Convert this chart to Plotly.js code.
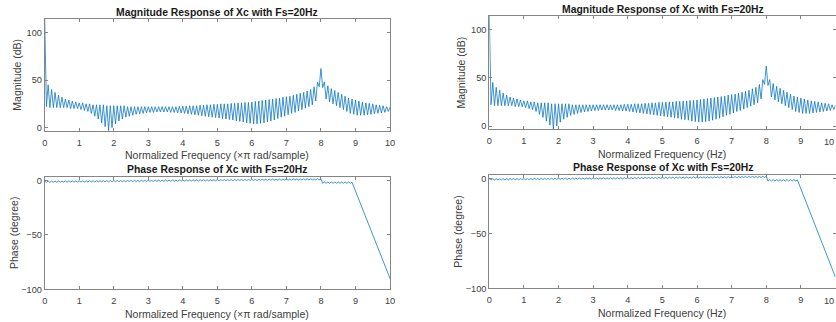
<!DOCTYPE html>
<html>
<head>
<meta charset="utf-8">
<script src="https://cdn.plot.ly/plotly-3.0.1.min.js"></script>
<style>html,body{margin:0;padding:0;background:#fff;}#chart{width:836px;height:322px;}</style>
</head>
<body>
<div id="chart"></div>
<script>
// ---- data ----
const magFreq = [0,0.02,0.05,0.1,0.15,0.2,0.25,0.3,0.35,0.4,0.45,0.5,0.55,0.6,0.65,0.7,0.75,0.8,0.85,0.9,0.95,
1.0,1.05,1.1,1.15,1.2,1.25,1.3,1.35,1.4,1.45,1.5,1.55,1.6,1.65,1.7,1.75,1.8,1.85,1.9,1.95,
2.0,2.05,2.1,2.15,2.2,2.25,2.3,2.35,2.4,2.45,2.5,2.55,2.6,2.65,2.7,2.75,2.8,2.85,2.9,2.95,
3.0,3.05,3.1,3.15,3.2,3.25,3.3,3.35,3.4,3.45,3.5,3.55,3.6,3.65,3.7,3.75,3.8,3.85,3.9,3.95,
4.0,4.05,4.1,4.15,4.2,4.25,4.3,4.35,4.4,4.45,4.5,4.55,4.6,4.65,4.7,4.75,4.8,4.85,4.9,4.95,
5.0,5.05,5.1,5.15,5.2,5.25,5.3,5.35,5.4,5.45,5.5,5.55,5.6,5.65,5.7,5.75,5.8,5.85,5.9,5.95,
6.0,6.05,6.1,6.15,6.2,6.25,6.3,6.35,6.4,6.45,6.5,6.55,6.6,6.65,6.7,6.75,6.8,6.85,6.9,6.95,
7.0,7.05,7.1,7.15,7.2,7.25,7.3,7.35,7.4,7.45,7.5,7.55,7.6,7.65,7.7,7.75,7.8,7.85,7.9,7.95,
8.0,8.05,8.1,8.15,8.2,8.25,8.3,8.35,8.4,8.45,8.5,8.55,8.6,8.65,8.7,8.75,8.8,8.85,8.9,8.95,
9.0,9.05,9.1,9.15,9.2,9.25,9.3,9.35,9.4,9.45,9.5,9.55,9.6,9.65,9.7,9.75,9.8,9.85,9.9,9.95,10.0];

const magDb = [114,56,22,45,21,40,21,37,21,34,21,32,21,30,21,29,20,28,20,27,20,
26,19,26,18,25,17,25,15,24,12,24,9,24,5,24,1,23,-3,23,0,
23,4,23,7,23,9,23,11,22,12,22,13,22,14,22,14.5,22,15,22,15.5,
22,16,22,16,22,16.5,22,16.5,22,16.5,22,16.5,22,16,22,16,22,15.5,22.5,15.5,
22.5,15,22.5,14.5,23,14,23,13.5,23,13,23.5,12.5,23.5,12,24,11.5,24,11,24.5,10.5,
24.5,10,25,9.5,25,9,25,8.5,25.5,8,25.5,7,26,6.5,26,6,26.5,5,26.5,4.5,
27,4,27.5,4,28,4.5,28.5,5,29,6,29.5,7,30,8,30.5,9.5,31,11,32,12,
32.5,13.5,33,15,34,16,35,17.5,36,19,37,20.5,38.5,22,40,24,43,28,48,43,
62,42,48,30,44,27,41,25,39,23,37,21,35,19,33,17,31,15,30,14,
29,13,28,13,27,13,26,13.5,25.5,14,25,14.5,24,15,23.5,15.5,23,16,22,17,21.5];

const phaseFreq = [0,0.05,0.1,0.15,0.2,0.25,0.3,0.35,0.4,0.45,0.5,0.55,0.6,0.65,0.7,0.75,0.8,0.85,0.9,0.95,
1.0,1.05,1.1,1.15,1.2,1.25,1.3,1.35,1.4,1.45,1.5,1.55,1.6,1.65,1.7,1.75,1.8,1.85,1.9,1.95,
2.0,2.05,2.1,2.15,2.2,2.25,2.3,2.35,2.4,2.45,2.5,2.55,2.6,2.65,2.7,2.75,2.8,2.85,2.9,2.95,
3.0,3.05,3.1,3.15,3.2,3.25,3.3,3.35,3.4,3.45,3.5,3.55,3.6,3.65,3.7,3.75,3.8,3.85,3.9,3.95,
4.0,4.05,4.1,4.15,4.2,4.25,4.3,4.35,4.4,4.45,4.5,4.55,4.6,4.65,4.7,4.75,4.8,4.85,4.9,4.95,
5.0,5.05,5.1,5.15,5.2,5.25,5.3,5.35,5.4,5.45,5.5,5.55,5.6,5.65,5.7,5.75,5.8,5.85,5.9,5.95,
6.0,6.05,6.1,6.15,6.2,6.25,6.3,6.35,6.4,6.45,6.5,6.55,6.6,6.65,6.7,6.75,6.8,6.85,6.9,6.95,
7.0,7.05,7.1,7.15,7.2,7.25,7.3,7.35,7.4,7.45,7.5,7.55,7.6,7.65,7.7,7.75,7.8,7.85,7.9,7.95,
8.0,8.03,8.05,8.1,8.15,8.2,8.25,8.3,8.35,8.4,8.45,8.5,8.55,8.6,8.65,8.7,8.75,8.8,8.85,8.9,10.0];

const phaseDeg = [-0.5,-1.5,-0.5,-1.5,-0.4,-1.4,-0.4,-1.4,-0.4,-1.4,-0.4,-1.3,-0.3,-1.3,-0.3,-1.3,-0.3,-1.3,-0.3,-1.2,
-0.2,-1.2,-0.2,-1.2,-0.2,-1.2,-0.1,-1.1,-0.1,-1.1,-0.1,-1.1,-0.1,-1.0,0.0,-1.0,0.0,-1.0,0.0,-1.0,
0.1,-0.9,0.1,-0.9,0.1,-0.9,0.1,-0.9,0.2,-0.8,0.2,-0.8,0.2,-0.8,0.2,-0.8,0.3,-0.7,0.3,-0.7,
0.3,-0.7,0.3,-0.7,0.4,-0.6,0.4,-0.6,0.4,-0.6,0.5,-0.5,0.5,-0.5,0.5,-0.5,0.5,-0.5,0.6,-0.4,
0.6,-0.4,0.6,-0.4,0.7,-0.3,0.7,-0.3,0.7,-0.3,0.8,-0.2,0.8,-0.2,0.8,-0.2,0.8,-0.2,0.9,-0.1,
0.9,-0.1,0.9,-0.1,1.0,0.0,1.0,0.0,1.0,0.0,1.1,0.1,1.1,0.1,1.1,0.1,1.1,0.1,1.2,0.2,
1.2,0.2,1.2,0.2,1.3,0.3,1.3,0.3,1.3,0.3,1.4,0.4,1.4,0.4,1.4,0.4,1.4,0.4,1.5,0.5,
1.5,0.5,1.5,0.5,1.6,0.6,1.6,0.6,1.6,0.6,1.7,0.7,1.7,0.7,1.7,0.7,1.7,0.7,1.8,0.8,
1.8,-1.2,-2.4,-1.2,-2.4,-1.2,-2.4,-1.2,-2.4,-1.2,-2.4,-1.2,-2.4,-1.2,-2.4,-1.2,-2.4,-1.2,-2.4,-1.5,-90];

const xTicks = [0,1,2,3,4,5,6,7,8,9,10];
const magTicks = [0,50,100];
const phaseTicks = [-100,-50,0];
const titleMag = 'Magnitude Response of Xc with Fs=20Hz';
const titlePhase = 'Phase Response of Xc with Fs=20Hz';
const xLabelLeft = 'Normalized Frequency (\u00d7\u03c0 rad/sample)';
const xLabelRight = 'Normalized Frequency (Hz)';
const yLabelMag = 'Magnitude (dB)';
const yLabelPhase = 'Phase (degree)';

// ---- layout ----
const W = 836, H = 322;
const px = v => v / W, py = v => 1 - v / H;
const lineColor = '#0072BD';
const axColor = '#858585';
const tickFont = {family: 'Liberation Sans, Arial, sans-serif', size: 9.2, color: '#404040'};

function xa(d0, d1, anchor) {
  return {domain: [px(d0), px(d1)], range: [0, 10], anchor: anchor, tickvals: xTicks,
    ticks: 'inside', ticklen: 3, tickcolor: axColor, showline: true, linecolor: axColor, linewidth: 1,
    mirror: 'ticks', showgrid: false, zeroline: false, tickfont: tickFont, ticklabelstandoff: 3};
}
function ya(top, bottom, range, ticks, anchor) {
  return {domain: [py(bottom), py(top)], range: range, anchor: anchor, tickvals: ticks,
    ticks: 'inside', ticklen: 3, tickcolor: axColor, showline: true, linecolor: axColor, linewidth: 1,
    mirror: 'ticks', showgrid: false, zeroline: false, tickfont: tickFont};
}

const traces = [
  {x: magFreq, y: magDb, xaxis: 'x', yaxis: 'y', type: 'scatter', mode: 'lines', line: {color: lineColor, width: 0.75}},
  {x: phaseFreq, y: phaseDeg, xaxis: 'x2', yaxis: 'y2', type: 'scatter', mode: 'lines', line: {color: lineColor, width: 0.75}},
  {x: magFreq, y: magDb, xaxis: 'x3', yaxis: 'y3', type: 'scatter', mode: 'lines', line: {color: lineColor, width: 0.75}},
  {x: phaseFreq, y: phaseDeg, xaxis: 'x4', yaxis: 'y4', type: 'scatter', mode: 'lines', line: {color: lineColor, width: 0.75}}
];

const titleFont = {family: 'Liberation Sans, Arial, sans-serif', size: 10.4, color: '#1a1a1a', weight: 'bold'};
const labelFont = {family: 'Liberation Sans, Arial, sans-serif', size: 10.5, color: '#404040'};
function ann(text, x, y, font, angle, xanchor) {
  return {text: text, x: px(x), y: py(y), xref: 'paper', yref: 'paper', showarrow: false,
    xanchor: xanchor || 'center', yanchor: 'middle', font: font, textangle: angle || 0};
}

const layout = {
  width: W, height: H, autosize: false, showlegend: false,
  margin: {l: 0, r: 0, t: 0, b: 0, pad: 0},
  paper_bgcolor: '#fff', plot_bgcolor: '#fff',
  xaxis: xa(44.7, 390, 'y'),
  yaxis: ya(19, 131, [-3.5, 114], magTicks, 'x'),
  xaxis2: xa(44.7, 390, 'y2'),
  yaxis2: ya(177.4, 289.3, [-100, 3], phaseTicks, 'x2'),
  xaxis3: xa(489.3, 835.5, 'y3'),
  yaxis3: ya(15.8, 129.4, [-3.5, 114], magTicks, 'x3'),
  xaxis4: xa(489.3, 835.5, 'y4'),
  yaxis4: ya(175, 288.3, [-100, 3], phaseTicks, 'x4'),
  annotations: [
    ann('<b>' + titleMag + '</b>', 217.4, 12.2, titleFont),
    ann('<b>' + titlePhase + '</b>', 217.4, 169.3, titleFont),
    ann('<b>' + titleMag + '</b>', 662.6, 9.6, titleFont),
    ann('<b>' + titlePhase + '</b>', 662.6, 167.3, titleFont),
    ann(xLabelLeft, 217.4, 155, labelFont),
    ann(xLabelLeft, 217.4, 314, labelFont),
    ann(xLabelRight, 662.4, 154, labelFont),
    ann(xLabelRight, 662.4, 313.3, labelFont),
    ann(yLabelMag, 16.7, 75, labelFont, -90),
    ann(yLabelPhase, 14, 233, labelFont, -90),
    ann(yLabelMag, 461, 72.6, labelFont, -90),
    ann(yLabelPhase, 457.7, 232, labelFont, -90),
    // the "10" tick labels of the right column sit at the page edge; keep them fully visible
    ann(String(xTicks[10]), 836, 142.2, tickFont, 0, 'right'),
    ann(String(xTicks[10]), 836, 300.6, tickFont, 0, 'right')
  ]
};

Plotly.newPlot('chart', traces, layout, {staticPlot: true, displayModeBar: false});
</script>
</body>
</html>
